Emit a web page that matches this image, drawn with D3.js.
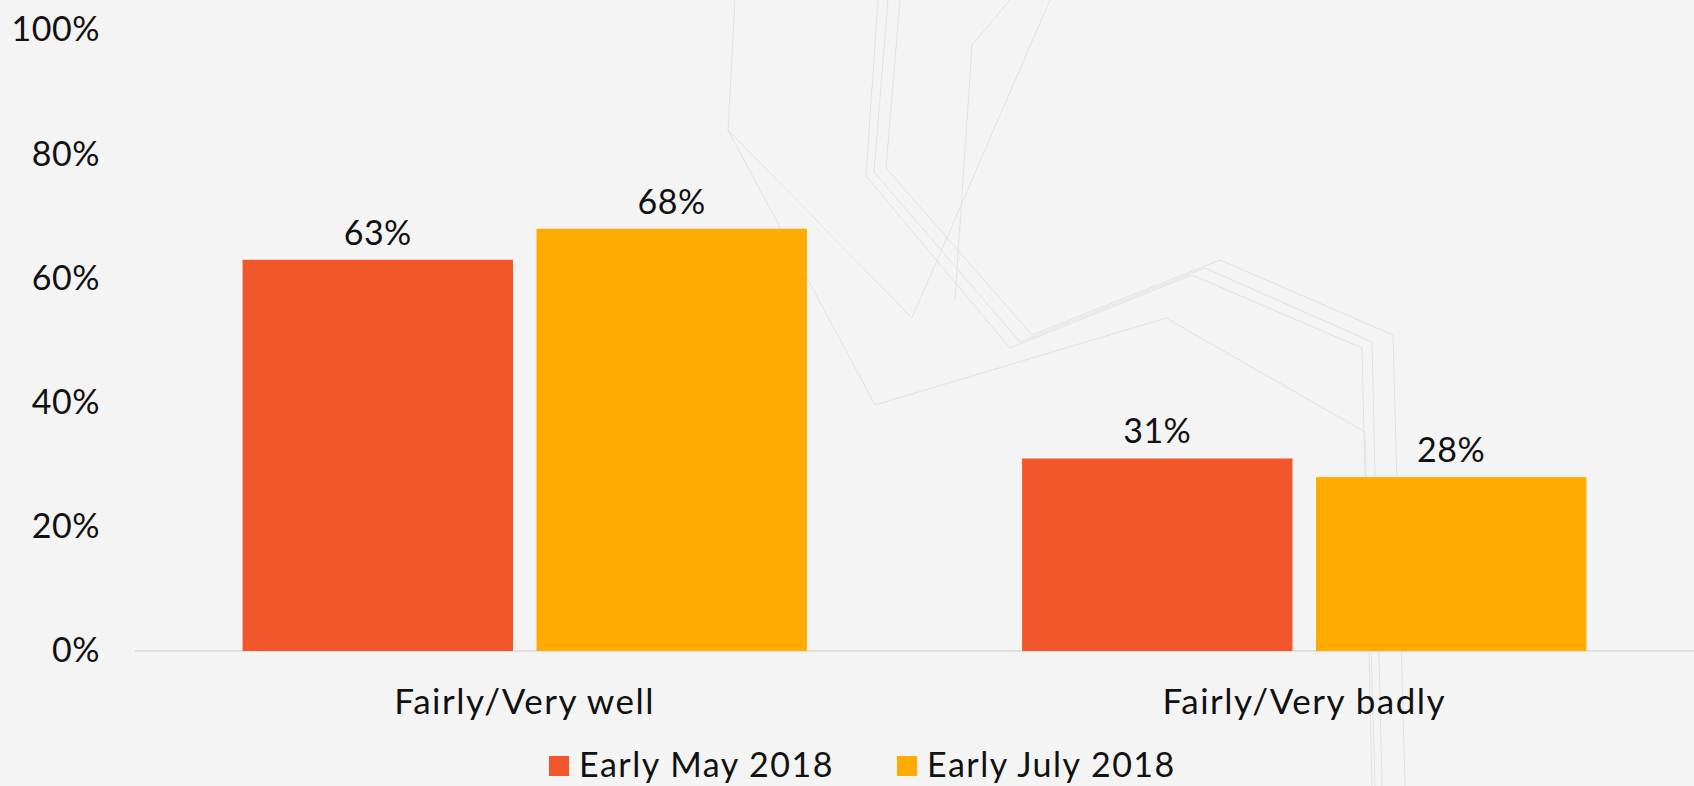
<!DOCTYPE html>
<html>
<head>
<meta charset="utf-8">
<script src="https://cdn.jsdelivr.net/npm/d3@7"></script>
<style>
  body { margin: 0; background: #f4f4f4; }
  svg { display: block; }
  text { font-family: "Century Gothic", "Lato", sans-serif; fill: #111; letter-spacing: 1.5px; }
</style>
</head>
<body>
<script>
const w = 1694;
const h = 786;

// data
const categories = ['Fairly/Very well', 'Fairly/Very badly'];
const seriesNames = ['Early May 2018', 'Early July 2018'];
const mayValues = [63, 31];
const julyValues = [68, 28];
const yTicks = [0, 20, 40, 60, 80, 100];
const colors = ['#f1572b', '#ffab00'];

const rows = categories.map((c, i) => ({cat: c, vals: [mayValues[i], julyValues[i]]}));

const svg = d3.select('body').append('svg').attr('width', w).attr('height', h);

// faint background decoration
const deco = [
  [[900, 0], [886, 168], [1032, 335], [1220, 260], [1393, 335], [1405, 786]],
  [[888, 0], [874, 172], [1020, 342], [1205, 268], [1372, 342], [1382, 786]],
  [[878, 0], [866, 176], [1010, 348], [1192, 275], [1362, 348], [1372, 786]],
  [[735, 0], [728, 130], [912, 318], [1050, 0]],
  [[1010, 0], [972, 45], [955, 300]],
  [[728, 130], [875, 405], [1166, 318], [1365, 432], [1375, 786]]
];
svg.selectAll('.deco').data(deco).enter().append('path')
  .attr('d', d3.line())
  .attr('fill', 'none')
  .attr('stroke', '#e2e2e2')
  .attr('stroke-width', 1);

const x0 = d3.scaleBand().domain(categories).range([135, 1694]).paddingInner(0.276).paddingOuter(0.138);
const x1 = d3.scaleBand().domain([0, 1]).range([0, x0.bandwidth()]).paddingInner(0.08);
const y = d3.scaleLinear().domain([0, 100]).range([651, 30]);

// y axis
const yAxis = svg.append('g').attr('transform', 'translate(135,0)')
  .call(d3.axisLeft(y).tickValues(yTicks).tickSize(0).tickPadding(35).tickFormat(d => d + '%'));
yAxis.select('.domain').remove();
yAxis.selectAll('text').style('font-size', '34px').style('letter-spacing', '0.5px').attr('fill', '#111');

// baseline
svg.append('line').attr('x1', 135).attr('x2', w).attr('y1', y(0)).attr('y2', y(0))
  .attr('stroke', '#d9d9d9').attr('stroke-width', 1.5);

const groups = svg.selectAll('.grp').data(rows).enter().append('g')
  .attr('transform', d => 'translate(' + x0(d.cat) + ',0)');

groups.selectAll('rect').data(d => d.vals).enter().append('rect')
  .attr('x', (d, i) => x1(i))
  .attr('y', d => y(d))
  .attr('width', x1.bandwidth())
  .attr('height', d => y(0) - y(d))
  .attr('fill', (d, i) => colors[i]);

groups.selectAll('.lbl').data(d => d.vals).enter().append('text')
  .attr('class', 'lbl')
  .attr('x', (d, i) => x1(i) + x1.bandwidth() / 2)
  .attr('y', d => y(d) - 15)
  .attr('text-anchor', 'middle')
  .style('font-size', '34px')
  .style('letter-spacing', '0.5px')
  .text(d => d + '%');

// category labels
svg.selectAll('.cat').data(categories).enter().append('text')
  .attr('x', d => x0(d) + x0.bandwidth() / 2)
  .attr('y', 714)
  .attr('text-anchor', 'middle')
  .style('font-size', '35px')
  .text(d => d);

// legend
const legX = [549, 897];
const leg = svg.selectAll('.leg').data(seriesNames).enter().append('g')
  .attr('transform', (d, i) => 'translate(' + legX[i] + ',0)');
leg.append('rect').attr('x', 0).attr('y', 756).attr('width', 20).attr('height', 20)
  .attr('fill', (d, i) => colors[i]);
leg.append('text').attr('x', 30).attr('y', 777).style('font-size', '34px').text(d => d);
</script>
</body>
</html>
